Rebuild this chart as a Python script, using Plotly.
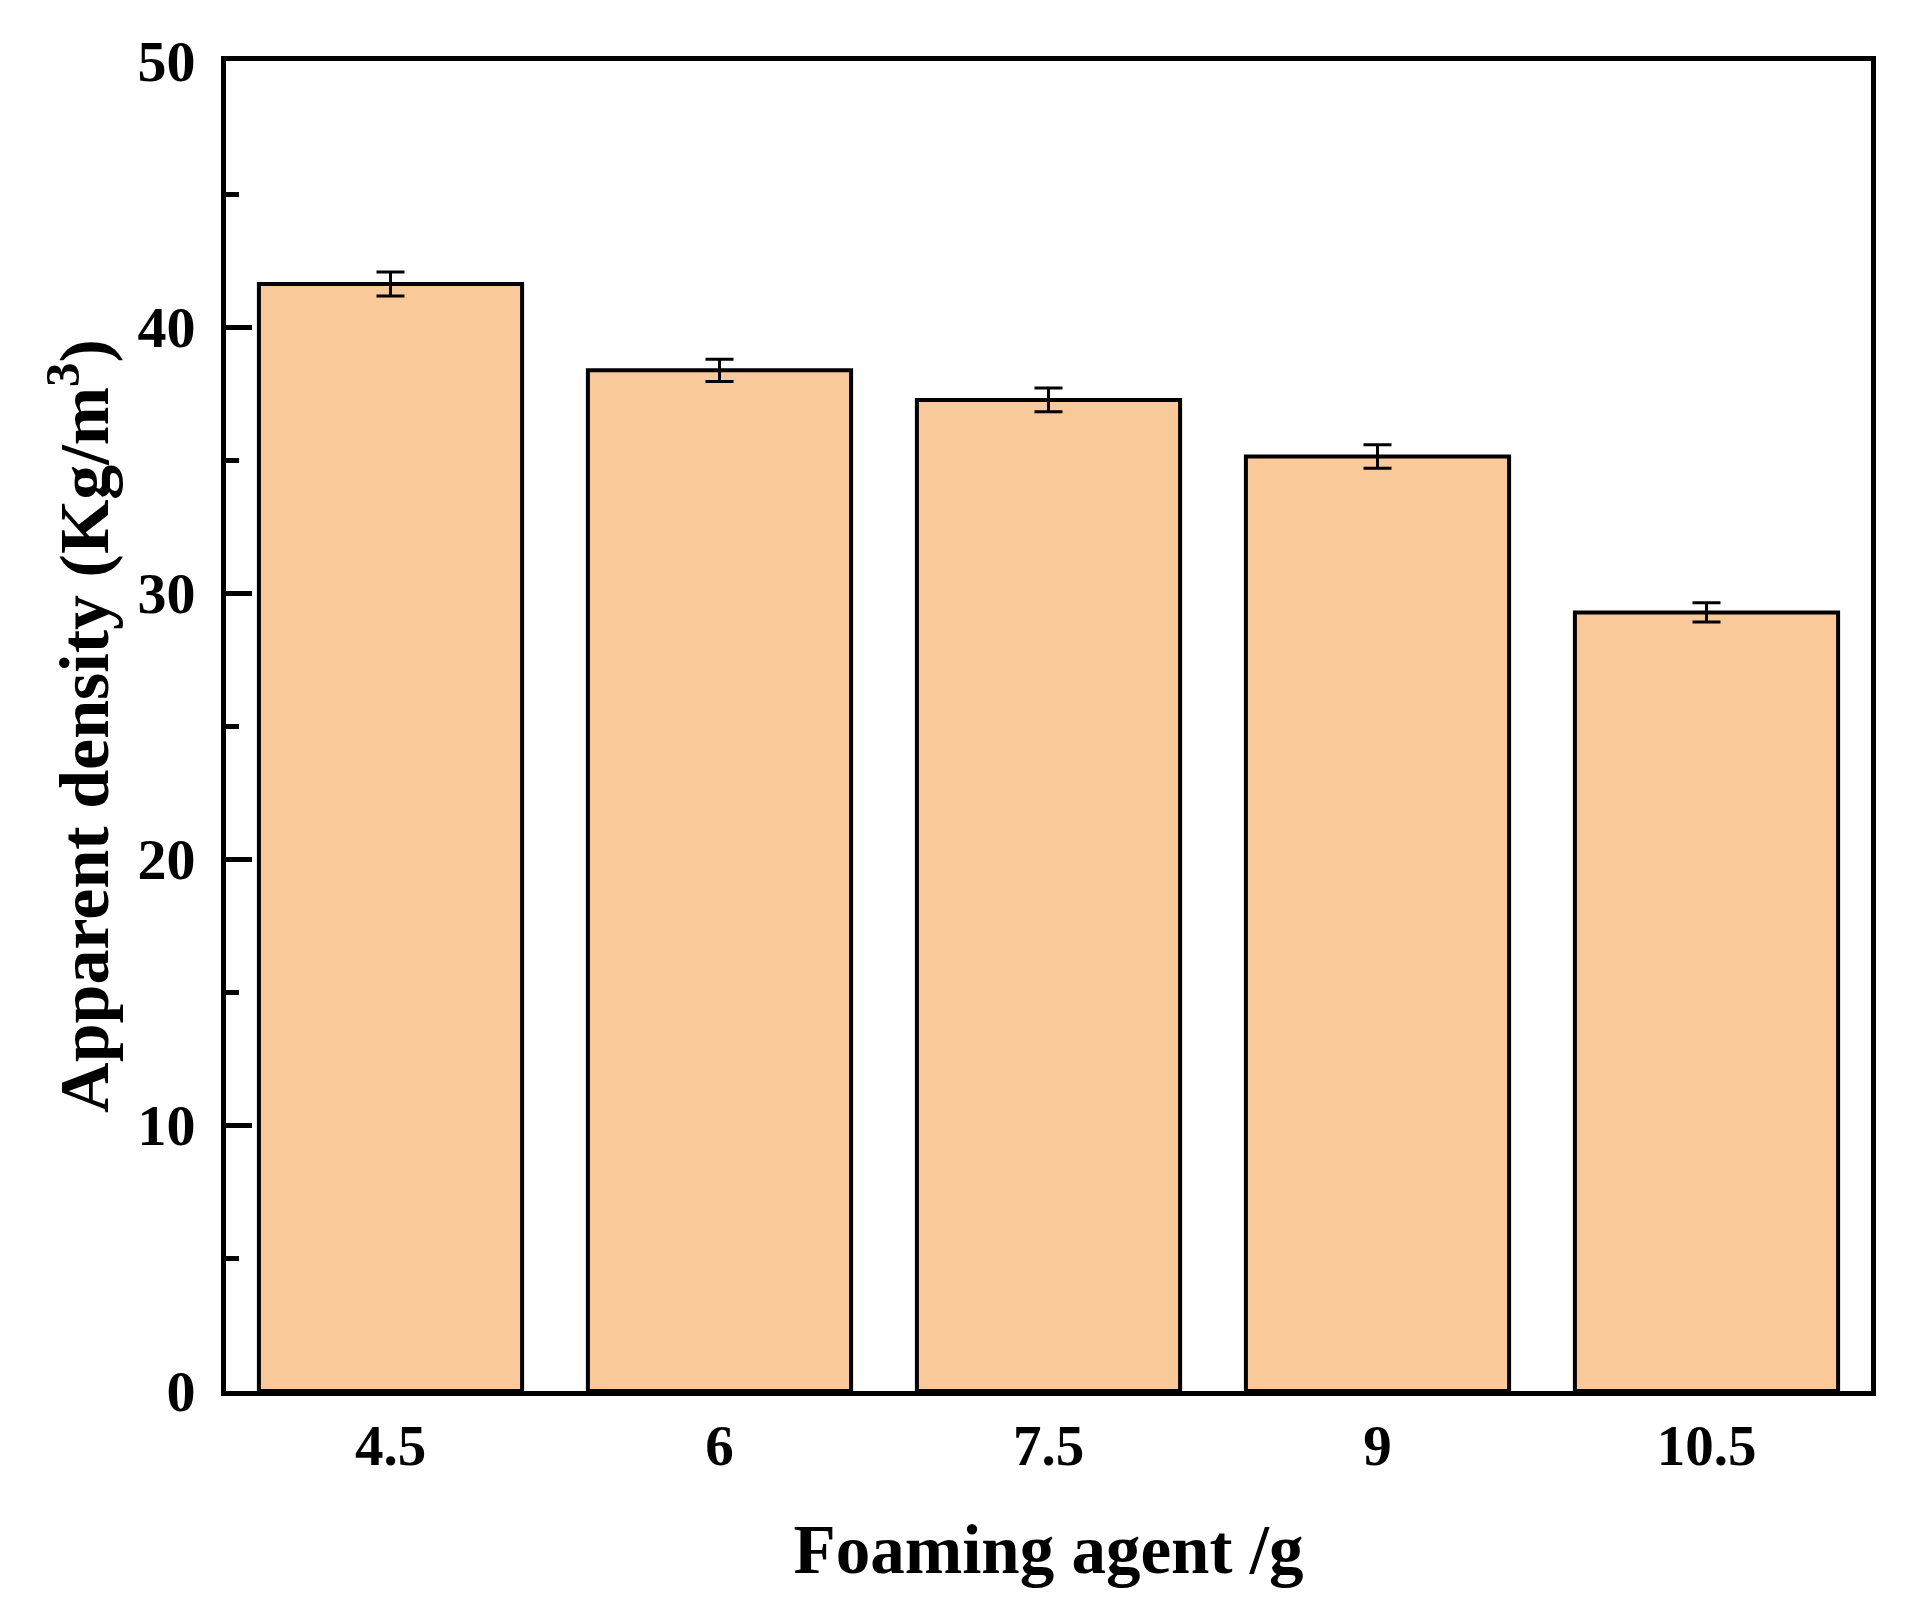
import plotly.graph_objects as go

categories = ["4.5", "6", "7.5", "9", "10.5"]
density = [41.62, 38.37, 37.26, 35.13, 29.27]
density_err = [0.45, 0.42, 0.45, 0.44, 0.36]
y_ticks = [0, 10, 20, 30, 40, 50]

FONT = "Liberation Serif, Times New Roman, serif"

fig = go.Figure()
fig.add_trace(go.Bar(
    x=categories,
    y=density,
    width=0.8,
    marker=dict(color="#FAC99A", line=dict(color="black", width=4)),
    error_y=dict(type="data", array=density_err, visible=True,
                 color="black", thickness=3, width=14),
))

fig.update_layout(
    width=1911, height=1619,
    margin=dict(l=218, r=48, t=53, b=236),
    paper_bgcolor="white", plot_bgcolor="white",
    font=dict(family=FONT, color="black", size=57),
    showlegend=False,
    bargap=0.2,
)

fig.update_xaxes(
    type="category",
    range=[-0.5, 4.5],
    showline=True, linecolor="black", linewidth=5, mirror=True,
    ticks="", showgrid=False, zeroline=False,
    tickfont=dict(family=FONT, size=57, color="black", weight="bold"),
    ticklabelstandoff=1,
    title=dict(text="<b>Foaming agent /g</b>",
               font=dict(family=FONT, size=69, color="black"),
               standoff=50),
)

fig.update_yaxes(
    range=[0, 50],
    tickvals=y_ticks,
    showline=True, linecolor="black", linewidth=5, mirror=True,
    ticks="inside", ticklen=26, tickwidth=5, tickcolor="black",
    minor=dict(dtick=5, ticks="inside", ticklen=13, tickwidth=5, tickcolor="black"),
    showgrid=False, zeroline=False,
    tickfont=dict(family=FONT, size=58, color="black", weight="bold"),
    ticklabelstandoff=14,
    title=dict(text="<b>Apparent density (Kg/m<sup>3</sup>)</b>",
               font=dict(family=FONT, size=70, color="black"),
               standoff=7),
)

fig.write_html("out.html")
